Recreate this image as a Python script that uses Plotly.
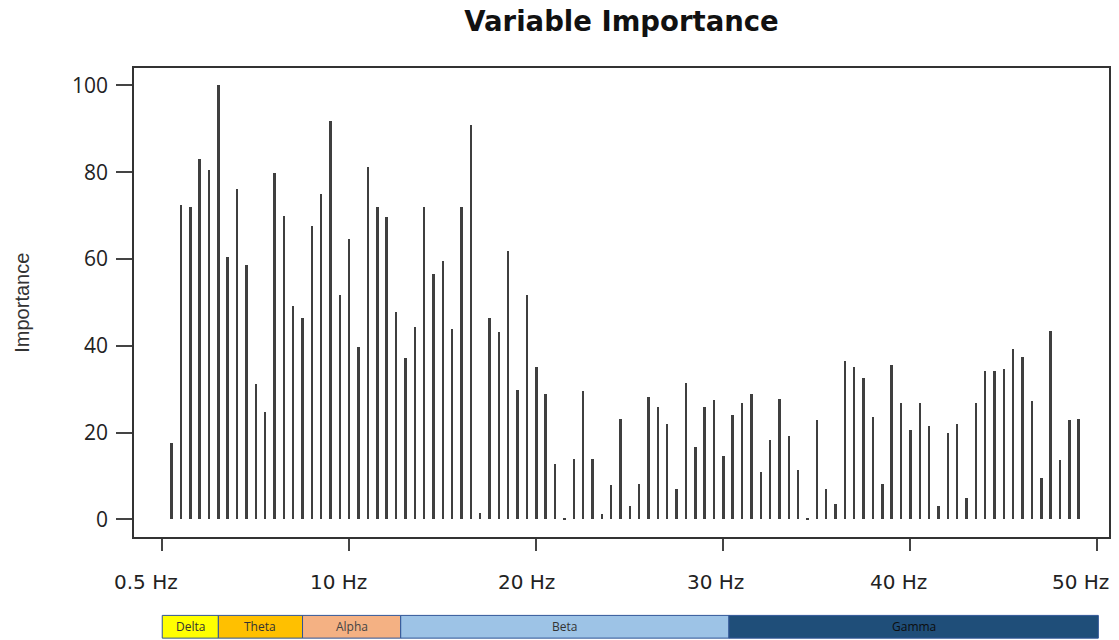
import plotly.graph_objects as go

# ---- data ----
freqs = [0.5 * i for i in range(1, 99)]  # 0.5 Hz steps, 0.5 .. 49 Hz
importance = [
    17.5, 72.5, 71.9, 83.1, 80.5, 100.0, 60.4, 76.1, 58.6, 31.2, 24.7, 79.9, 69.9, 49.2, 46.5, 67.6,
    74.9, 91.7, 51.8, 64.5, 39.7, 81.1, 71.9, 69.6, 47.7, 37.1, 44.2, 71.9, 56.6, 59.5, 43.9, 71.9, 90.8,
    1.5, 46.5, 43.2, 61.9, 29.9, 51.8, 35.0, 28.8, 12.8, 0.2, 14.0, 29.6, 14.0, 1.3, 7.8, 23.1,
    3.1, 8.1, 28.2, 25.8, 22.0, 6.9, 31.4, 16.7, 25.8, 27.6, 14.6, 24.1, 26.9, 28.8, 10.8, 18.2, 27.8,
    19.3, 11.4, 0.2, 22.8, 6.9, 3.6, 36.4, 35.2, 32.6, 23.5, 8.1, 35.5, 26.9, 20.5, 26.9, 21.4,
    3.1, 19.9, 22.0, 4.8, 26.7, 34.1, 34.1, 34.7, 39.2, 37.4, 27.3, 9.5, 43.5, 13.7, 22.8, 23.2,
]
x_tickvals = [0, 10, 20, 30, 40, 50]
x_ticktext = ["0.5 Hz", "10 Hz", "20 Hz", "30 Hz", "40 Hz", "50 Hz"]
y_tickvals = [0, 20, 40, 60, 80, 100]
band_names = ["Delta", "Theta", "Alpha", "Beta", "Gamma"]
band_edges = [0, 3, 7.5, 12.75, 30.3, 50.05]
band_colors = ["#FFFF00", "#FFC000", "#F4B183", "#9DC3E6", "#1F4E79"]
band_text_colors = ["#333333", "#333333", "#444444", "#333333", "#0d0d0d"]

# ---- figure ----
fig = go.Figure(
    go.Bar(
        x=freqs,
        y=importance,
        width=0.13,
        marker=dict(color="#3f3f3f", line=dict(width=0)),
        hovertemplate="%{x} Hz: %{y}<extra></extra>",
    )
)

H_PLOT = 468.4
def py(pix):  # pixel offset below plot bottom -> paper coordinate
    return -pix / H_PLOT

shapes = []
annotations = []
for i, name in enumerate(band_names):
    x0, x1 = band_edges[i], band_edges[i + 1]
    shapes.append(dict(
        type="rect", xref="x", yref="paper", x0=x0, x1=x1,
        y0=py(78.3), y1=py(101), fillcolor=band_colors[i],
        line=dict(color="#2F5597", width=1), layer="above",
    ))
    annotations.append(dict(
        x=(x0 + x1) / 2, y=py(89.6), xref="x", yref="paper",
        text=name, showarrow=False, xanchor="center", yanchor="middle",
        font=dict(family="Open Sans", size=12, color=band_text_colors[i]),
    ))

label_shift = [-16, -11, -10, -8, -12, -17]
for v, t, s in zip(x_tickvals, x_ticktext, label_shift):
    annotations.append(dict(
        x=v, y=py(44.8), xref="x", yref="paper", text=t, showarrow=False,
        xanchor="center", yanchor="middle", xshift=s,
        font=dict(family="DejaVu Sans", size=20, color="#222222"),
    ))

annotations.append(dict(
    x=(21 - 134) / 977, y=0.5, xref="paper", yref="paper", text="Importance",
    textangle=-90, showarrow=False, xanchor="center", yanchor="middle",
    font=dict(family="Liberation Sans", size=20, color="#333333"),
))

fig.update_layout(
    width=1119, height=640,
    margin=dict(l=134, r=8, t=68, b=103),
    plot_bgcolor="white", paper_bgcolor="white",
    showlegend=False,
    bargap=0,
    title=dict(
        text="<b>Variable Importance</b>", x=0.5, xref="paper", xanchor="center",
        y=1 - 21 / 640, yref="container", yanchor="middle",
        font=dict(family="DejaVu Sans", size=27.5, color="#111111"),
    ),
    xaxis=dict(
        range=[-1.51, 50.62], tickvals=x_tickvals, showticklabels=False,
        ticks="outside", ticklen=12, tickwidth=1.5, tickcolor="#444444",
        showline=True, mirror=True, linecolor="#333333", linewidth=1.5,
        showgrid=False, zeroline=False,
    ),
    yaxis=dict(
        range=[-4.08, 104.0], tickvals=y_tickvals,
        ticks="outside", ticklen=16, tickwidth=1.5, tickcolor="#444444",
        tickfont=dict(family="Open Sans", size=21, color="#222222"),
        ticklabelstandoff=4,
        showline=True, mirror=True, linecolor="#333333", linewidth=1.5,
        showgrid=False, zeroline=False,
    ),
    shapes=shapes,
    annotations=annotations,
)

fig.write_html(
    "out.html",
    config={"displayModeBar": False},
    post_script="document.body.style.margin='0';document.body.style.overflow='hidden';",
)
